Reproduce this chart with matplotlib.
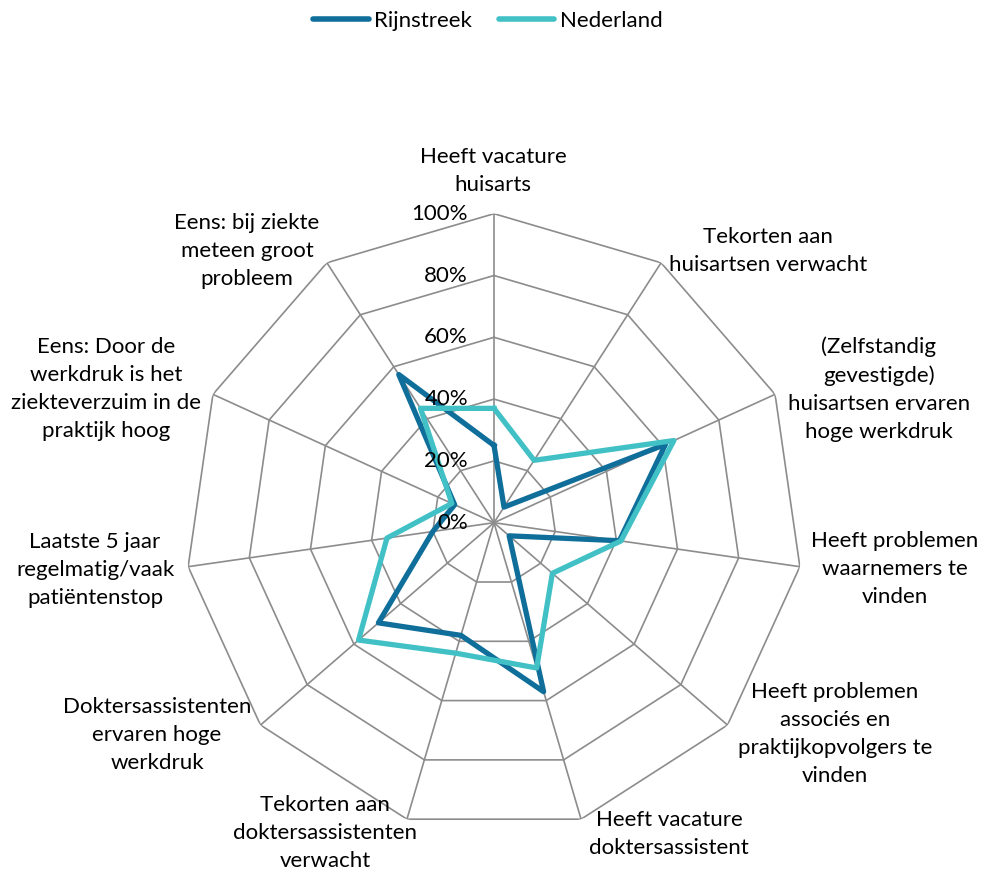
import numpy as np
import matplotlib
matplotlib.use("Agg")
import matplotlib.pyplot as plt
from matplotlib.lines import Line2D

plt.rcParams['font.family'] = ['Lato', 'DejaVu Sans']

# categories, clockwise from the top
categories = [
    "Heeft vacature\nhuisarts",
    "Tekorten aan\nhuisartsen verwacht",
    "(Zelfstandig\ngevestigde)\nhuisartsen ervaren\nhoge werkdruk",
    "Heeft problemen\nwaarnemers te\nvinden",
    "Heeft problemen\nassociés en\npraktijkopvolgers te\nvinden",
    "Heeft vacature\ndoktersassistent",
    "Tekorten aan\ndoktersassistenten\nverwacht",
    "Doktersassistenten\nervaren hoge\nwerkdruk",
    "Laatste 5 jaar\nregelmatig/vaak\npatiëntenstop",
    "Eens: Door de\nwerkdruk is het\nziekteverzuim in de\npraktijk hoog",
    "Eens: bij ziekte\nmeteen groot\nprobleem",
]
rijnstreek = [25, 6, 61, 41, 6.5, 57, 38, 49.5, 20, 14, 57]
nederland = [37, 24, 64, 41.5, 25, 49, 44, 58, 35, 15, 44]
ticks = [0, 20, 40, 60, 80, 100]

# label centres in pixels (layout only)
label_xy = [(493, 171), (768, 251), (879, 389), (895, 569), (835, 734),
            (669, 834), (325, 833), (157, 735), (95, 570), (106, 389), (247, 251)]

W, H = 982, 872
C_DARK = '#0F6F9A'
C_LIGHT = '#41C1C6'
GRID = '#8C8C8C'
FS = 16

fig = plt.figure(figsize=(W / 100, H / 100), dpi=100)
cx, cy, R = 494, 522.7, 309
ax = fig.add_axes([(cx - R) / W, (H - cy - R) / H, 2 * R / W, 2 * R / H], projection='polar')
ax.set_theta_zero_location('N')
ax.set_theta_direction(-1)
ax.set_ylim(0, 100)
ax.grid(False)
ax.spines['polar'].set_visible(False)
ax.set_xticks([])
ax.set_yticks([])
ax.patch.set_alpha(0)

n = len(categories)
theta = np.linspace(0, 2 * np.pi, n, endpoint=False)
closed = np.append(theta, theta[0])

# polygon grid
for t in ticks[1:]:
    ax.plot(closed, [t] * (n + 1), color=GRID, lw=1.2, zorder=1)
for th in theta:
    ax.plot([th, th], [0, 100], color=GRID, lw=1.2, zorder=1)

ax.plot(closed, rijnstreek + rijnstreek[:1], color=C_DARK, lw=3.8, zorder=3)
ax.plot(closed, nederland + nederland[:1], color=C_LIGHT, lw=3.8, zorder=4)

for t in ticks:
    ax.annotate(f"{t}%", xy=(0, t), xytext=(-26, 0), textcoords='offset pixels',
                ha='right', va='center', fontsize=FS, color='black', zorder=5)

for lab, (x, y) in zip(categories, label_xy):
    fig.text(x / W, 1 - y / H, lab, ha='center', va='center', multialignment='center',
             fontsize=FS, linespacing=1.5)

handles = [Line2D([], [], color=C_DARK, lw=4, solid_capstyle='round'),
           Line2D([], [], color=C_LIGHT, lw=4, solid_capstyle='round')]
fig.legend(handles, ['Rijnstreek', 'Nederland'], loc='center', bbox_to_anchor=(488 / W, 1 - 21 / H),
           ncol=2, frameon=False, fontsize=FS, handlelength=2.5, handletextpad=0.25, columnspacing=1.2)

fig.savefig('out.png', dpi=100)
